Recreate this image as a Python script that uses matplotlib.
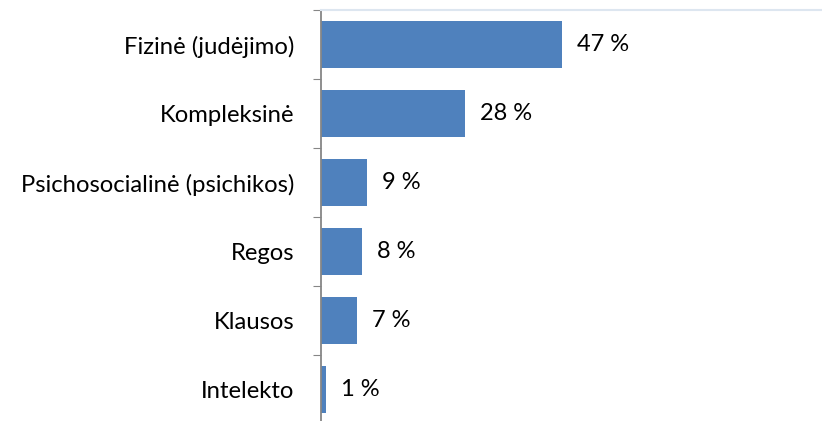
import matplotlib.pyplot as plt

# data
kategorijos = ["Fizinė (judėjimo)", "Kompleksinė", "Psichosocialinė (psichikos)",
               "Regos", "Klausos", "Intelekto"]
procentai = [47, 28, 9, 8, 7, 1]

plt.rcParams['font.family'] = ['Lato', 'DejaVu Sans']

fig = plt.figure(figsize=(8.22, 4.21), dpi=100)
ax = fig.add_axes([321 / 822, -3 / 421, 501 / 822, 414 / 421])

y = list(range(len(kategorijos)))
ax.barh(y, procentai, height=0.67, color='#4f81bd')
ax.set_ylim(len(kategorijos) - 0.5, -0.5)
ax.set_xlim(0, 501 / 5.13)

for yi, v in zip(y, procentai):
    ax.text(v + 15 / 5.13, yi, f"{v} %", va='center', ha='left', fontsize=17, color='black')

# ašys
ax.set_yticks([i - 0.5 for i in range(len(kategorijos) + 1)])
ax.set_yticklabels([])
ax.set_yticks(y, minor=True)
ax.set_yticklabels(kategorijos, minor=True, fontsize=17.2)
ax.tick_params(axis='y', which='major', length=6, color='#868686', direction='out')
ax.tick_params(axis='y', which='minor', length=0, pad=19)
ax.set_xticks([])

for s in ['right', 'bottom']:
    ax.spines[s].set_visible(False)
ax.spines['left'].set_color('#868686')
ax.spines['left'].set_linewidth(1.3)
ax.spines['top'].set_color('#dde6f0')
ax.spines['top'].set_linewidth(1.5)

fig.savefig('out.png', dpi=100)
